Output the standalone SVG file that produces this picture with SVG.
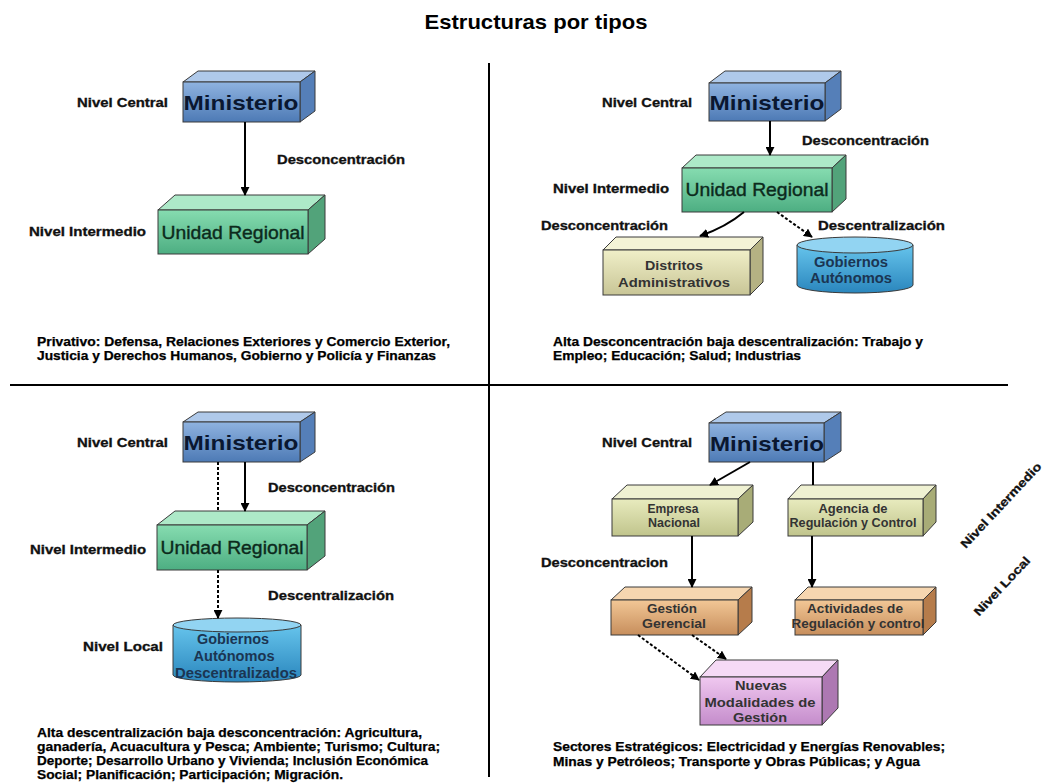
<svg xmlns="http://www.w3.org/2000/svg" width="1043" height="784" viewBox="0 0 1043 784">
<defs>
<linearGradient id="gBlue" x1="0" y1="0" x2="0" y2="1"><stop offset="0" stop-color="#8fb3e0"/><stop offset="1" stop-color="#4d7ab5"/></linearGradient>
<linearGradient id="gGreen" x1="0" y1="0" x2="0" y2="1"><stop offset="0" stop-color="#86dcb0"/><stop offset="1" stop-color="#4dae82"/></linearGradient>
<linearGradient id="gKhaki" x1="0" y1="0" x2="0" y2="1"><stop offset="0" stop-color="#f0efc8"/><stop offset="1" stop-color="#c8c596"/></linearGradient>
<linearGradient id="gOlive" x1="0" y1="0" x2="0" y2="1"><stop offset="0" stop-color="#e8ebbe"/><stop offset="1" stop-color="#c0c48c"/></linearGradient>
<linearGradient id="gOrange" x1="0" y1="0" x2="0" y2="1"><stop offset="0" stop-color="#f2c796"/><stop offset="1" stop-color="#c78e5c"/></linearGradient>
<linearGradient id="gPurple" x1="0" y1="0" x2="0" y2="1"><stop offset="0" stop-color="#f0c8f0"/><stop offset="1" stop-color="#c48ccb"/></linearGradient>
<linearGradient id="gCyl" x1="0" y1="0" x2="0" y2="1"><stop offset="0" stop-color="#66c4ec"/><stop offset="1" stop-color="#2a86bd"/></linearGradient>
<marker id="ah" viewBox="0 0 10 10" refX="9" refY="5" markerWidth="9" markerHeight="9" markerUnits="userSpaceOnUse" orient="auto"><path d="M0,0 L10,5 L0,10 z" fill="#000"/></marker>
</defs>
<style>
.f{stroke:#3a3a3a;stroke-width:1}
.blue .front{fill:url(#gBlue)} .blue .top{fill:#afc9ea} .blue .side{fill:#557fb8}
.green .front{fill:url(#gGreen)} .green .top{fill:#ade9c8} .green .side{fill:#52a37a}
.khaki .front{fill:url(#gKhaki)} .khaki .top{fill:#f4f3d6} .khaki .side{fill:#b5b283}
.olive .front{fill:url(#gOlive)} .olive .top{fill:#eff1d2} .olive .side{fill:#a8ac77}
.orange .front{fill:url(#gOrange)} .orange .top{fill:#f6d6b0} .orange .side{fill:#b67c4b}
.purple .front{fill:url(#gPurple)} .purple .top{fill:#f5daf5} .purple .side{fill:#ad78b2}
.cyl .body{fill:url(#gCyl)} .cyl .cap{fill:#92d4f2}
text{font-family:"Liberation Sans",Arial,sans-serif}
.lbl{font-size:12px;font-weight:bold;fill:#111;stroke:#111;stroke-width:0.3}
.para{font-size:12px;font-weight:bold;fill:#000;stroke:#000;stroke-width:0.25}
.min{font-size:21px;font-weight:bold;fill:#0a1730;text-anchor:middle}
.uni{font-size:19px;fill:#0c2a1c;text-anchor:middle;stroke:#0c2a1c;stroke-width:0.4}
.nt{font-size:13px;font-weight:bold;fill:#333;text-anchor:middle}
.ct{font-size:14px;font-weight:bold;fill:#1b3552;text-anchor:middle}
.ln{stroke:#000;stroke-width:2;fill:none}
.dl{stroke:#000;stroke-width:2;fill:none;stroke-dasharray:3 2}
</style>
<rect x="0" y="0" width="1043" height="784" fill="#fff"/>
<text x="536" y="29" text-anchor="middle" font-size="21" font-weight="bold" fill="#000" textLength="223" lengthAdjust="spacingAndGlyphs">Estructuras por tipos</text>
<g id="dividers">
<line x1="489" y1="63" x2="489" y2="777" stroke="#000" stroke-width="2"/>
<line x1="10" y1="385" x2="1008" y2="385" stroke="#000" stroke-width="2"/>
</g>

<!-- Q1 -->
<g id="q1-ministerio" class="blue">
<polygon class="f top" points="183,82 198,71 315,71 300,82"/>
<polygon class="f side" points="300,82 315,71 315,111 300,122"/>
<rect class="f front" x="183" y="82" width="117" height="40"/>
<text class="min" x="241" y="110" textLength="115" lengthAdjust="spacingAndGlyphs">Ministerio</text>
</g>
<g id="q1-unidad" class="green">
<polygon class="f top" points="158,210 175,195 325,195 308,210"/>
<polygon class="f side" points="308,210 325,195 325,239 308,254"/>
<rect class="f front" x="158" y="210" width="150" height="44"/>
<text class="uni" x="233" y="239" textLength="143" lengthAdjust="spacingAndGlyphs">Unidad Regional</text>
</g>

<!-- Q2 -->
<g id="q2-ministerio" class="blue">
<polygon class="f top" points="709,83 725,71 841,71 825,83"/>
<polygon class="f side" points="825,83 841,71 841,109 825,121"/>
<rect class="f front" x="709" y="83" width="116" height="38"/>
<text class="min" x="767" y="110" textLength="115" lengthAdjust="spacingAndGlyphs">Ministerio</text>
</g>
<g id="q2-unidad" class="green">
<polygon class="f top" points="682,168 696,155 846,155 832,168"/>
<polygon class="f side" points="832,168 846,155 846,199 832,212"/>
<rect class="f front" x="682" y="168" width="150" height="44"/>
<text class="uni" x="757" y="196" textLength="143" lengthAdjust="spacingAndGlyphs">Unidad Regional</text>
</g>
<g id="q2-distritos" class="khaki">
<polygon class="f top" points="603,250 616,237 763,237 750,250"/>
<polygon class="f side" points="750,250 763,237 763,282 750,295"/>
<rect class="f front" x="603" y="250" width="147" height="45"/>
<text class="nt" x="674" y="270" textLength="58" lengthAdjust="spacingAndGlyphs">Distritos</text>
<text class="nt" x="674" y="287" textLength="112" lengthAdjust="spacingAndGlyphs">Administrativos</text>
</g>
<g id="q2-gobiernos" class="cyl">
<path class="f body" d="M797,245 L797,285 A58,8 0 0 0 913,285 L913,245 Z"/>
<ellipse class="f cap" cx="855" cy="245" rx="58" ry="8"/>
<text class="ct" x="851" y="267" textLength="74" lengthAdjust="spacingAndGlyphs">Gobiernos</text>
<text class="ct" x="851" y="283" textLength="82" lengthAdjust="spacingAndGlyphs">Autónomos</text>
</g>

<!-- Q3 -->
<g id="q3-ministerio" class="blue">
<polygon class="f top" points="183,422 198,412 315,412 300,422"/>
<polygon class="f side" points="300,422 315,412 315,452 300,462"/>
<rect class="f front" x="183" y="422" width="117" height="40"/>
<text class="min" x="241" y="450" textLength="115" lengthAdjust="spacingAndGlyphs">Ministerio</text>
</g>
<g id="q3-unidad" class="green">
<polygon class="f top" points="157,525 175,511 325,511 307,525"/>
<polygon class="f side" points="307,525 325,511 325,556 307,570"/>
<rect class="f front" x="157" y="525" width="150" height="45"/>
<text class="uni" x="232" y="554" textLength="143" lengthAdjust="spacingAndGlyphs">Unidad Regional</text>
</g>
<g id="q3-gobiernos" class="cyl">
<path class="f body" d="M173,625 L173,675 A64,7 0 0 0 301,675 L301,625 Z"/>
<ellipse class="f cap" cx="237" cy="625" rx="64" ry="7"/>
<text class="ct" x="233" y="644" textLength="72" lengthAdjust="spacingAndGlyphs">Gobiernos</text>
<text class="ct" x="234" y="661" textLength="81" lengthAdjust="spacingAndGlyphs">Autónomos</text>
<text class="ct" x="236" y="678" textLength="122" lengthAdjust="spacingAndGlyphs">Descentralizados</text>
</g>

<!-- Q4 -->
<g id="q4-ministerio" class="blue">
<polygon class="f top" points="709,423 726,412 841,412 824,423"/>
<polygon class="f side" points="824,423 841,412 841,451 824,462"/>
<rect class="f front" x="709" y="423" width="115" height="39"/>
<text class="min" x="767" y="451" textLength="114" lengthAdjust="spacingAndGlyphs">Ministerio</text>
</g>
<g id="q4-empresa" class="olive">
<polygon class="f top" points="612,499 627,485 753,485 738,499"/>
<polygon class="f side" points="738,499 753,485 753,522 738,536"/>
<rect class="f front" x="612" y="499" width="126" height="37"/>
<text class="nt" x="673" y="513" font-size="12" textLength="51" lengthAdjust="spacingAndGlyphs">Empresa</text>
<text class="nt" x="674" y="527" font-size="12" textLength="52" lengthAdjust="spacingAndGlyphs">Nacional</text>
</g>
<g id="q4-agencia" class="olive">
<polygon class="f top" points="788,499 801,485 936,485 923,499"/>
<polygon class="f side" points="923,499 936,485 936,522 923,536"/>
<rect class="f front" x="788" y="499" width="135" height="37"/>
<text class="nt" x="853" y="513" font-size="12" textLength="69" lengthAdjust="spacingAndGlyphs">Agencia de</text>
<text class="nt" x="853" y="527" font-size="12" textLength="127" lengthAdjust="spacingAndGlyphs">Regulación y Control</text>
</g>
<g id="q4-gestion" class="orange">
<polygon class="f top" points="611,600 625,587 752,587 738,600"/>
<polygon class="f side" points="738,600 752,587 752,622 738,635"/>
<rect class="f front" x="611" y="600" width="127" height="35"/>
<text class="nt" x="672" y="613" font-size="12" textLength="50" lengthAdjust="spacingAndGlyphs">Gestión</text>
<text class="nt" x="674" y="628" font-size="12" textLength="64" lengthAdjust="spacingAndGlyphs">Gerencial</text>
</g>
<g id="q4-actividades" class="orange">
<polygon class="f top" points="795,600 808,587 936,587 923,600"/>
<polygon class="f side" points="923,600 936,587 936,622 923,635"/>
<rect class="f front" x="795" y="600" width="128" height="35"/>
<text class="nt" x="855" y="613" font-size="12" textLength="96" lengthAdjust="spacingAndGlyphs">Actividades de</text>
<text class="nt" x="858" y="628" font-size="12" textLength="133" lengthAdjust="spacingAndGlyphs">Regulación y control</text>
</g>
<g id="q4-nuevas" class="purple">
<polygon class="f top" points="700,677 716,660 838,660 822,677"/>
<polygon class="f side" points="822,677 838,660 838,708 822,725"/>
<rect class="f front" x="700" y="677" width="122" height="48"/>
<text class="nt" x="761" y="690" textLength="52" lengthAdjust="spacingAndGlyphs" fill="#2a1a2a">Nuevas</text>
<text class="nt" x="760" y="707" textLength="111" lengthAdjust="spacingAndGlyphs" fill="#2a1a2a">Modalidades de</text>
<text class="nt" x="760" y="722" textLength="54" lengthAdjust="spacingAndGlyphs" fill="#2a1a2a">Gestión</text>
</g>

<g id="connectors">
<line class="ln" x1="245" y1="122" x2="245" y2="195" marker-end="url(#ah)"/>
<line class="ln" x1="770" y1="121" x2="770" y2="155" marker-end="url(#ah)"/>
<path class="ln" d="M744,212 Q726,227 700,236" marker-end="url(#ah)"/>
<line class="dl" x1="777" y1="212" x2="812" y2="237" marker-end="url(#ah)"/>
<line class="ln" x1="245" y1="462" x2="245" y2="511" marker-end="url(#ah)"/>
<line class="dl" x1="218" y1="462" x2="218" y2="511"/>
<line class="dl" x1="218" y1="570" x2="218" y2="618" marker-end="url(#ah)"/>
<line class="ln" x1="750" y1="462" x2="710" y2="485" marker-end="url(#ah)"/>
<line class="ln" x1="813" y1="462" x2="813" y2="485"/>
<line class="ln" x1="692" y1="536" x2="692" y2="587" marker-end="url(#ah)"/>
<line class="ln" x1="812" y1="536" x2="812" y2="587" marker-end="url(#ah)"/>
<line class="dl" x1="638" y1="635" x2="699" y2="680" marker-end="url(#ah)"/>
<line class="dl" x1="692" y1="635" x2="726" y2="659" marker-end="url(#ah)"/>
</g>

<g id="labels">
<text class="lbl" x="77" y="107" textLength="91" lengthAdjust="spacingAndGlyphs">Nivel Central</text>
<text class="lbl" x="277" y="164" textLength="128" lengthAdjust="spacingAndGlyphs">Desconcentración</text>
<text class="lbl" x="29" y="236" textLength="117" lengthAdjust="spacingAndGlyphs">Nivel Intermedio</text>
<text class="lbl" x="602" y="107" textLength="90" lengthAdjust="spacingAndGlyphs">Nivel Central</text>
<text class="lbl" x="802" y="145" textLength="127" lengthAdjust="spacingAndGlyphs">Desconcentración</text>
<text class="lbl" x="553" y="193" textLength="116" lengthAdjust="spacingAndGlyphs">Nivel Intermedio</text>
<text class="lbl" x="541" y="230" textLength="127" lengthAdjust="spacingAndGlyphs">Desconcentración</text>
<text class="lbl" x="818" y="230" textLength="127" lengthAdjust="spacingAndGlyphs">Descentralización</text>
<text class="lbl" x="77" y="447" textLength="91" lengthAdjust="spacingAndGlyphs">Nivel Central</text>
<text class="lbl" x="268" y="492" textLength="127" lengthAdjust="spacingAndGlyphs">Desconcentración</text>
<text class="lbl" x="30" y="554" textLength="116" lengthAdjust="spacingAndGlyphs">Nivel Intermedio</text>
<text class="lbl" x="268" y="600" textLength="126" lengthAdjust="spacingAndGlyphs">Descentralización</text>
<text class="lbl" x="83" y="651" textLength="80" lengthAdjust="spacingAndGlyphs">Nivel Local</text>
<text class="lbl" x="602" y="447" textLength="90" lengthAdjust="spacingAndGlyphs">Nivel Central</text>
<text class="lbl" x="541" y="567" textLength="127" lengthAdjust="spacingAndGlyphs">Desconcentracion</text>
<text class="lbl" font-size="11" text-anchor="middle" transform="translate(1004,508) rotate(-47)" textLength="112" lengthAdjust="spacingAndGlyphs">Nivel Intermedio</text>
<text class="lbl" font-size="11" text-anchor="middle" transform="translate(1005,589) rotate(-47)" textLength="76" lengthAdjust="spacingAndGlyphs">Nivel Local</text>
</g>

<g id="notes">
<text class="para" x="37" y="346" textLength="413" lengthAdjust="spacingAndGlyphs">Privativo: Defensa, Relaciones Exteriores y Comercio Exterior,</text>
<text class="para" x="37" y="360" textLength="399" lengthAdjust="spacingAndGlyphs">Justicia y Derechos Humanos, Gobierno y Policía y Finanzas</text>
<text class="para" x="553" y="346" textLength="370" lengthAdjust="spacingAndGlyphs">Alta Desconcentración baja descentralización: Trabajo y</text>
<text class="para" x="553" y="360" textLength="248" lengthAdjust="spacingAndGlyphs">Empleo; Educación; Salud; Industrias</text>
<text class="para" x="37" y="737" textLength="385" lengthAdjust="spacingAndGlyphs">Alta descentralización baja desconcentración: Agricultura,</text>
<text class="para" x="37" y="751" textLength="403" lengthAdjust="spacingAndGlyphs">ganadería, Acuacultura y Pesca; Ambiente; Turismo; Cultura;</text>
<text class="para" x="37" y="765" textLength="391" lengthAdjust="spacingAndGlyphs">Deporte; Desarrollo Urbano y Vivienda; Inclusión Económica</text>
<text class="para" x="37" y="779" textLength="306" lengthAdjust="spacingAndGlyphs">Social; Planificación; Participación; Migración.</text>
<text class="para" x="553" y="751" textLength="392" lengthAdjust="spacingAndGlyphs">Sectores Estratégicos: Electricidad y Energías Renovables;</text>
<text class="para" x="553" y="766" textLength="367" lengthAdjust="spacingAndGlyphs">Minas y Petróleos; Transporte y Obras Públicas; y Agua</text>
</g>
</svg>
